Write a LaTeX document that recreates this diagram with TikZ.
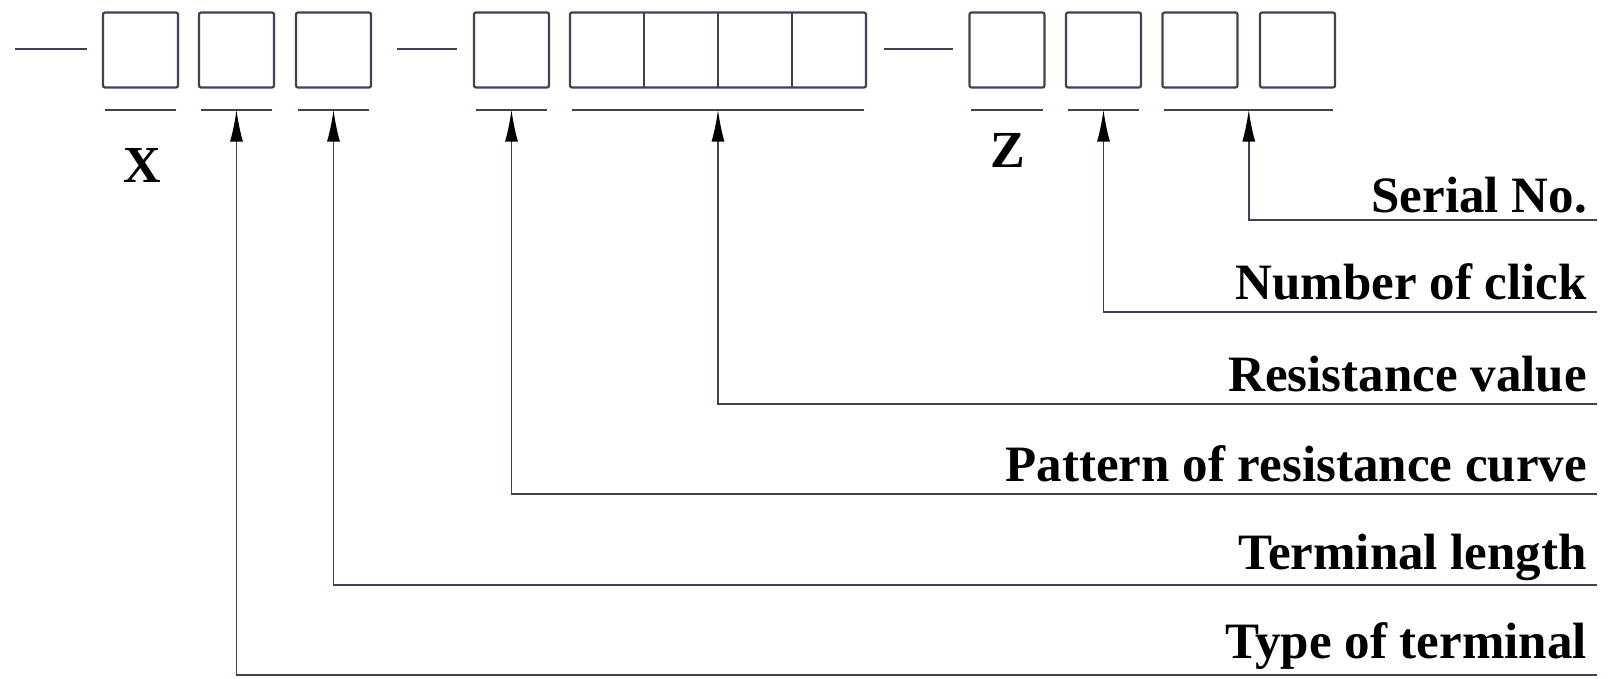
\documentclass[tikz,border=0pt]{standalone}
\usepackage{fontspec}
\setmainfont{Liberation Serif}
\usetikzlibrary{arrows.meta}
\definecolor{linecol}{RGB}{70,62,86}
\begin{document}
\begin{tikzpicture}[x=1pt,y=-1pt,
  cell/.style={draw=linecol, line width=2.2pt, rounded corners=2pt, minimum width=75pt, minimum height=75pt, inner sep=0pt},
  widecell/.style={cell, minimum width=296pt},
  uline/.style={draw=linecol, line width=2pt},
  dashln/.style={draw=linecol, line width=2pt},
  conn/.style={draw=linecol, line width=1.7pt, -{Latex[length=32pt,width=13pt,color=black]}},
  lab/.style={anchor=base east, inner sep=0pt, font=\fontsize{51}{60}\selectfont\bfseries},
  letter/.style={inner sep=0pt, font=\fontsize{52}{60}\selectfont\bfseries}]
\useasboundingbox (0,0) rectangle (1615,678);

% boxes
\node[cell] (b1) at (140.5,50) {};
\node[cell] (b2) at (236.5,50) {};
\node[cell] (b3) at (333.5,50) {};
\node[cell] (b4) at (511.5,50) {};
\node[widecell] (b5) at (718,50) {};
\node[cell] (b6) at (1007,50) {};
\node[cell] (b7) at (1103.5,50) {};
\node[cell] (b8) at (1200,50) {};
\node[cell] (b9) at (1297.5,50) {};
% dividers of the wide box
\draw[uline] (644,12.5) -- (644,87.5);
\draw[uline] (718,12.5) -- (718,87.5);
\draw[uline] (792,12.5) -- (792,87.5);

% dashes
\draw[dashln] (15,49) -- (87,49);
\draw[dashln] (397,49) -- (457,49);
\draw[dashln] (884,49) -- (953,49);

% underlines
\foreach \b in {b1,b2,b3,b4,b5,b6,b7}{
  \draw[uline] ([shift={(3,21)}]\b.south west) -- ([shift={(-3,21)}]\b.south east);
}
\draw[uline] ([shift={(3,21)}]b8.south west) -- ([shift={(-3,21)}]b9.south east);

% letters
\node[letter] (X) at (142,165) {X};
\node[letter] (Z) at (1008,150) {Z};

% arrow points
\coordinate (p2) at ([shift={(0,21)}]b2.south);
\coordinate (p3) at ([shift={(0,21)}]b3.south);
\coordinate (p4) at ([shift={(0,21)}]b4.south);
\coordinate (p5) at ([shift={(0,21)}]b5.south);
\coordinate (p7) at ([shift={(0,21)}]b7.south);
\coordinate (p8) at ([shift={(48.75,21)}]b8.south);

% label line ends
\coordinate (e1) at (1597,220);
\coordinate (e2) at (1597,312);
\coordinate (e3) at (1597,404);
\coordinate (e4) at (1597,494);
\coordinate (e5) at (1597,585);
\coordinate (e6) at (1597,675);

% labels
\node[lab] (l1) at (1587,212) {Serial No.};
\node[lab] (l2) at (1587,299) {Number of click};
\node[lab] (l3) at (1587,391) {Resistance value};
\node[lab] (l4) at (1587,481) {Pattern of resistance curve};
\node[lab] (l5) at (1587,569) {Terminal length};
\node[lab] (l6) at (1587,658) {Type of terminal};

% connectors
\draw[conn] (e1) -| (p8);
\draw[conn] (e2) -| (p7);
\draw[conn] (e3) -| (p5);
\draw[conn] (e4) -| (p4);
\draw[conn] (e5) -| (p3);
\draw[conn] (e6) -| (p2);
\end{tikzpicture}
\end{document}
